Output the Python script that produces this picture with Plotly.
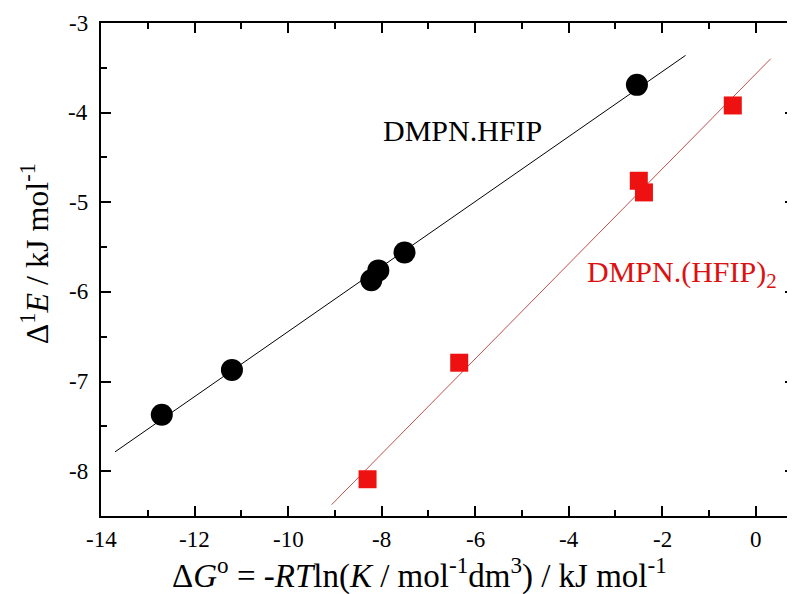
import numpy as np
import plotly.graph_objects as go

# Data
x_hfip = [-12.70, -11.20, -8.22, -8.07, -7.51, -2.54]
y_hfip = [-7.37, -6.87, -5.87, -5.76, -5.56, -3.69]
x_hfip2 = [-8.30, -6.34, -2.50, -2.39, -0.49]
y_hfip2 = [-8.09, -6.79, -4.76, -4.89, -3.92]
fit_range_hfip = [-13.7, -1.5]
fit_range_hfip2 = [-9.07, 0.32]
x_ticks = [-14, -12, -10, -8, -6, -4, -2, 0]
y_ticks = [-8, -7, -6, -5, -4, -3]
x_title = "Δ<i>G</i><sup>o</sup> = -<i>RT</i>ln(<i>K</i> / mol<sup>-1</sup>dm<sup>3</sup>) / kJ mol<sup>-1</sup>"
y_title = "Δ<sup>1</sup><i>E</i> / kJ mol<sup>-1</sup>"

FONT = "Liberation Serif"

def fit_line(xs, ys, xr):
    m, b = np.polyfit(xs, ys, 1)
    xr = np.array(xr)
    return xr, m * xr + b

fig = go.Figure()

lx, ly = fit_line(x_hfip, y_hfip, fit_range_hfip)
fig.add_trace(go.Scatter(x=lx, y=ly, mode="lines", line=dict(color="black", width=1), showlegend=False))
lx2, ly2 = fit_line(x_hfip2, y_hfip2, fit_range_hfip2)
fig.add_trace(go.Scatter(x=lx2, y=ly2, mode="lines", line=dict(color="#c0504d", width=1), showlegend=False))

fig.add_trace(go.Scatter(x=x_hfip, y=y_hfip, mode="markers",
                         marker=dict(symbol="circle", size=22, color="black"), showlegend=False))
fig.add_trace(go.Scatter(x=x_hfip2, y=y_hfip2, mode="markers",
                         marker=dict(symbol="square", size=18, color="#ee1111"), showlegend=False))

# series labels
fig.add_annotation(x=-6.26, y=-4.20, text="DMPN.HFIP", showarrow=False,
                   font=dict(family=FONT, size=30, color="black"))
fig.add_annotation(x=-3.64, y=-5.80, text="DMPN.(HFIP)<sub>2</sub>", showarrow=False,
                   xanchor="left", yanchor="middle",
                   font=dict(family=FONT, size=30, color="#dd1111"))

# tick labels (drawn as annotations at the axis tick values)
for v in x_ticks:
    fig.add_annotation(x=v, xref="x", y=0, yref="paper", text=str(v), showarrow=False,
                       yanchor="middle", yshift=-23,
                       font=dict(family=FONT, size=23, color="black"))
for v in y_ticks:
    fig.add_annotation(x=0, xref="paper", y=v, yref="y", text=str(v), showarrow=False,
                       xanchor="right", yanchor="middle", xshift=-11,
                       font=dict(family=FONT, size=23, color="black"))

# axis titles
fig.add_annotation(x=0.459, xref="paper", y=0, yref="paper", text=x_title, showarrow=False,
                   xanchor="center", yanchor="middle", yshift=-57,
                   font=dict(family=FONT, size=33, color="black"))
fig.add_annotation(x=0, xref="paper", y=0.531, yref="paper", text=y_title, showarrow=False,
                   xanchor="center", yanchor="middle", xshift=-66, textangle=-90,
                   font=dict(family=FONT, size=32, color="black"))

axis_common = dict(
    showline=True, linecolor="black", linewidth=2, mirror="allticks",
    ticks="inside", ticklen=10, tickwidth=1.5, tickcolor="black",
    showgrid=False, zeroline=False, automargin=False, showticklabels=False,
)
xaxis = dict(range=[-14, 0.84], tickmode="array", tickvals=x_ticks,
             minor=dict(dtick=1, ticks="inside", ticklen=6, tickwidth=1.5, tickcolor="black", showgrid=False),
             **axis_common)
yaxis = dict(range=[-8.5, -3], tickmode="array", tickvals=y_ticks,
             minor=dict(dtick=0.5, ticks="inside", ticklen=6, tickwidth=1.5, tickcolor="black", showgrid=False),
             **axis_common)

# the page body adds an 8px offset; margins compensate so the plot area lands as in the reference
fig.update_layout(width=795, height=594, plot_bgcolor="white", paper_bgcolor="white",
                  font=dict(family=FONT, size=23, color="black"),
                  xaxis=xaxis, yaxis=yaxis,
                  margin=dict(l=93, r=8, t=15, b=86), showlegend=False)

fig.write_html("out.html")
